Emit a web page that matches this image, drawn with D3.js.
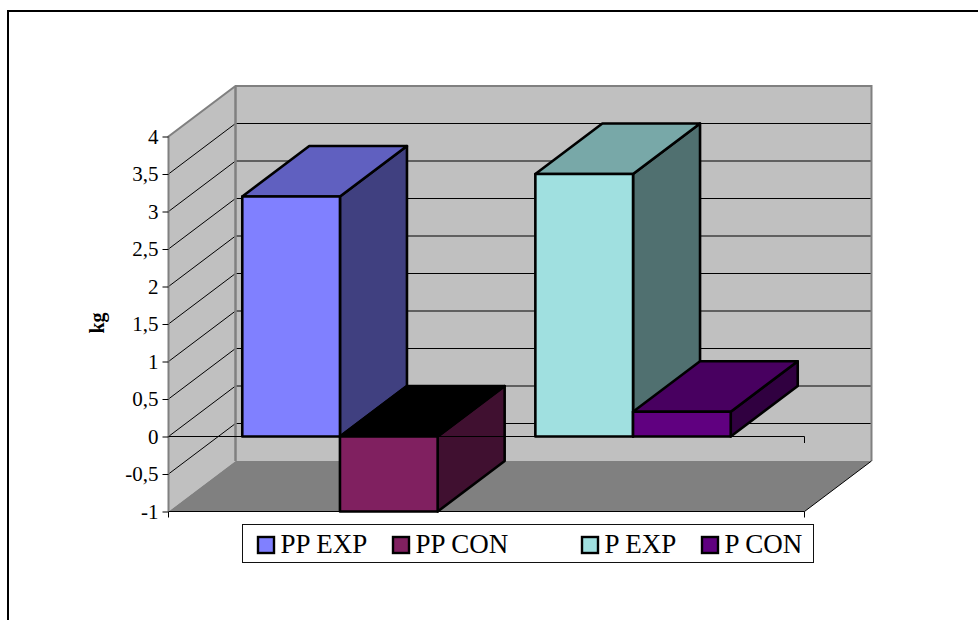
<!DOCTYPE html>
<html>
<head>
<meta charset="utf-8">
<script src="https://cdn.jsdelivr.net/npm/d3@7"></script>
<style>
  html, body { margin: 0; padding: 0; background: #fff; }
  svg { display: block; font-family: "Liberation Serif", serif; }
</style>
</head>
<body>
<svg id="chart" width="978" height="620"></svg>
<script>
// Weight change per group; the unnamed series leaves the gap between PP and P.
const seriesNames = ["PP EXP", "PP CON", " ", "P EXP", "P CON"];
const seriesValues = [3.2, -1, null, 3.5, 0.33];
const frontColors = ["#8080ff", "#802060", null, "#a0e0e0", "#600080"];
const topColors = ["#6060c0", "#000000", null, "#78a8a8", "#480060"];
const sideColors = ["#404080", "#401030", null, "#507070", "#300040"];
const yTicks = [-1, -0.5, 0, 0.5, 1, 1.5, 2, 2.5, 3, 3.5, 4];
const legendOffsets = [258, 393, 0, 582, 702];

const svg = d3.select("#chart");
const W = 978, H = 620;
const left = 168.5, right = 804.5, depthX = 67, depthY = 50.5;

const y = d3.scaleLinear().domain([-1, 4]).range([511.5, 136.5]);
const x = d3.scaleBand().domain(d3.range(seriesNames.length))
  .range([left + 0.5, right - 0.5]).paddingInner(0).paddingOuter(0.75);

const poly = pts => pts.map(p => p.join(",")).join(" ");
const y0 = y(0), yLow = y(-1), yHigh = y(4);

// Outer chart frame, open on the right and bottom
svg.append("path")
  .attr("d", `M8,${H}V11H${W}`)
  .attr("fill", "none").attr("stroke", "#000").attr("stroke-width", 2);

// Walls and floor of the 3D box
svg.append("polygon")
  .attr("points", poly([[left, yHigh], [left + depthX, yHigh - depthY], [left + depthX, yLow - depthY], [left, yLow]]))
  .attr("fill", "#c0c0c0");
svg.append("rect")
  .attr("x", left + depthX).attr("y", yHigh - depthY)
  .attr("width", right - left).attr("height", yLow - yHigh)
  .attr("fill", "#c0c0c0");
svg.append("polygon")
  .attr("points", poly([[left, yLow], [left + depthX, yLow - depthY], [right + depthX, yLow - depthY], [right, yLow]]))
  .attr("fill", "#808080");

// Gridlines across the side wall and the back wall
const grid = svg.append("g").attr("stroke", "#000").attr("stroke-width", 1).attr("fill", "none");
yTicks.filter(t => t > -1 && t < 4).forEach(t => {
  grid.append("path")
    .attr("d", `M${left},${y(t)}L${left + depthX},${y(t) - depthY}H${right + depthX}`);
});

// Grey wall outlines
svg.append("path")
  .attr("d", `M${left},${yLow}V${yHigh}L${left + depthX},${yHigh - depthY}H${right + depthX}V${yLow - depthY}`)
  .attr("fill", "none").attr("stroke", "#808080").attr("stroke-width", 2);
svg.append("path")
  .attr("d", `M${left + depthX},${yHigh - depthY}V${yLow - depthY}`)
  .attr("fill", "none").attr("stroke", "#808080").attr("stroke-width", 2.5);

// Floor front and right edges
svg.append("path")
  .attr("d", `M${left},${yLow}H${right}L${right + depthX},${yLow - depthY}`)
  .attr("fill", "none").attr("stroke", "#000").attr("stroke-width", 1);

// End ticks on the floor and the zero plane
svg.append("path")
  .attr("d", `M${right},${y0}v6.5M${right},${yLow}v6M${left},${yLow}v6`)
  .attr("fill", "none").attr("stroke", "#000").attr("stroke-width", 1);

// Value axis
const axis = svg.append("g")
  .attr("transform", `translate(${left},0)`)
  .call(d3.axisLeft(y).tickValues(yTicks).tickSize(6).tickPadding(4)
    .tickFormat(d => String(d).replace(".", ",")));
axis.select(".domain").attr("stroke", "#808080").attr("stroke-width", 1).attr("d", `M0,${yLow}V${yHigh}`);
axis.selectAll(".tick line").attr("stroke", "#000");
axis.selectAll("text").attr("font-size", 21).attr("fill", "#000")
  .attr("font-family", "Liberation Serif");

// Bars: front, top and side faces
const bars = svg.append("g").attr("stroke", "#000").attr("stroke-width", 2.6).attr("stroke-linejoin", "round");
seriesValues.forEach((v, i) => {
  if (v === null) return;
  const x0 = x(i), x1 = x0 + x.bandwidth();
  const a = y(Math.max(v, 0)), b = y(Math.min(v, 0));
  const g = bars.append("g");
  g.append("polygon").attr("fill", sideColors[i])
    .attr("points", poly([[x1, a], [x1 + depthX, a - depthY], [x1 + depthX, b - depthY], [x1, b]]));
  g.append("polygon").attr("fill", topColors[i])
    .attr("points", poly([[x0, a], [x0 + depthX, a - depthY], [x1 + depthX, a - depthY], [x1, a]]));
  g.append("rect").attr("fill", frontColors[i])
    .attr("x", x0).attr("y", a).attr("width", x1 - x0).attr("height", b - a);
});

// Zero plane line runs across the bars
svg.append("path")
  .attr("d", `M${left},${y0}H${right}`)
  .attr("fill", "none").attr("stroke", "#000").attr("stroke-width", 1);

// Axis title
svg.append("text")
  .attr("transform", "translate(104,323) rotate(-90)")
  .attr("text-anchor", "middle").attr("font-size", 20).attr("font-weight", "bold")
  .text("kg");

// Legend
svg.append("rect")
  .attr("x", 242.5).attr("y", 524.5).attr("width", 571).attr("height", 38)
  .attr("fill", "#fff").attr("stroke", "#111").attr("stroke-width", 1);
seriesNames.forEach((name, i) => {
  if (seriesValues[i] === null) return;
  const g = svg.append("g").attr("transform", `translate(${legendOffsets[i]},537)`);
  g.append("rect").attr("width", 16).attr("height", 16)
    .attr("fill", frontColors[i]).attr("stroke", "#000").attr("stroke-width", 2.4);
  g.append("text").attr("x", 22.5).attr("y", 15.5).attr("font-size", 27).text(name);
});
</script>
</body>
</html>
